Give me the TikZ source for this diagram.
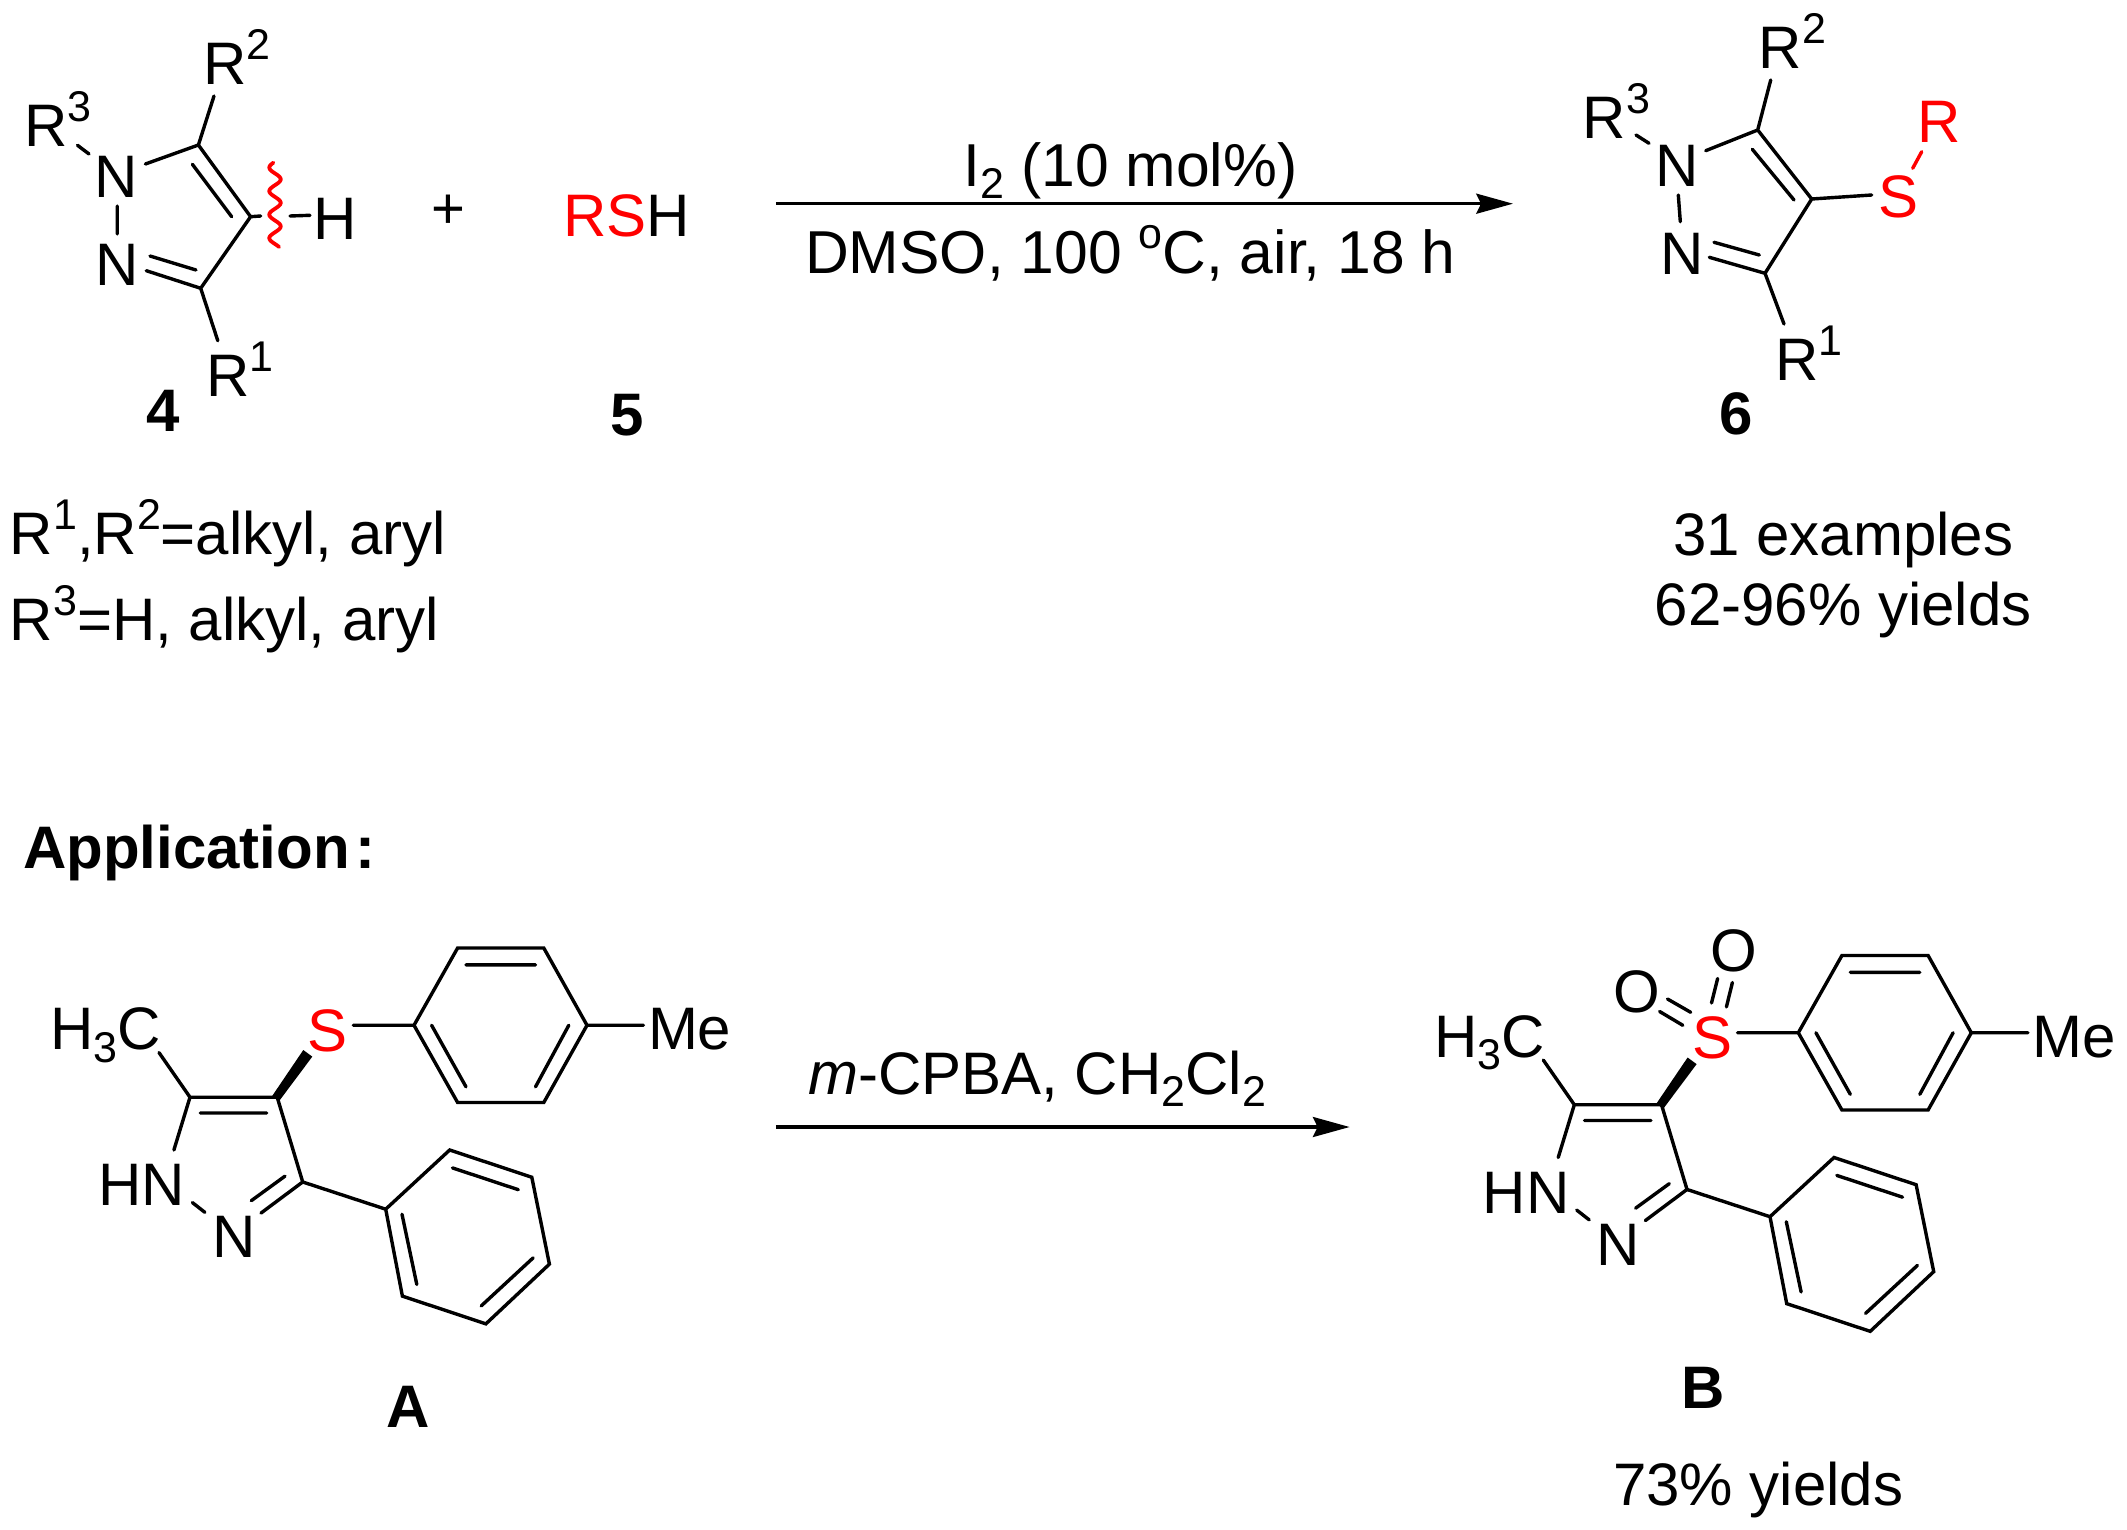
\documentclass[tikz,border=0pt]{standalone}
\usepackage{fontspec}
\setmainfont{Liberation Sans}
\usetikzlibrary{arrows.meta}
\definecolor{sred}{RGB}{255,0,0}
\newcommand{\bigf}{\fontsize{60}{70}\selectfont}
\newcommand{\condf}{\fontsize{60.6}{70}\selectfont}
\newcommand{\smf}{\fontsize{43}{50}\selectfont}
\newcommand{\Rs}[1]{R\raisebox{25pt}{\smf #1}}
\newcommand{\Us}[1]{\raisebox{25pt}{\smf #1}}
\newcommand{\Ds}[1]{\raisebox{-12.5pt}{\smf #1}}
\tikzset{
  x=1pt,y=-1pt,
  bond/.style={line width=3.4pt,line cap=round,line join=miter,black},
  rxn/.style={line width=3.2pt,-{Stealth[length=36.7pt,width=20pt,inset=4.7pt]}},
  wavy/.style={line width=3.8pt,sred,line cap=round},
  lab/.style={inner sep=0pt,anchor=base west,font=\bigf,xshift=-4.7pt},
  labS/.style={inner sep=0pt,anchor=base west,font=\bigf,xshift=-3pt},
  txt/.style={inner sep=0pt,anchor=base,font=\bigf},
  txtl/.style={inner sep=0pt,anchor=base west,font=\bigf},
  lbl/.style={inner sep=0pt,anchor=base,font=\bigf\bfseries},
}
% shared skeleton of A and B
\newcommand{\core}[3]{%
\begin{scope}[shift={(#2,#3)},yscale=.99]
 \node[lab] (#1h3c) at (54.5,1051) {H\Ds{3}C};
 \node[lab] (#1hn) at (103,1208.6) {HN};
 \node[lab] (#1n) at (216.5,1261.3) {N};
 \node[labS,text=sred] (#1s) at (310.6,1052.5) {S};
 \node[lab] (#1me) at (652.5,1051) {Me};
 \coordinate (#1c5) at (190,1099); \coordinate (#1c4) at (277.2,1099); \coordinate (#1c3) at (302.7,1184.6);
 \coordinate (#1a) at (159,1053.9); \coordinate (#1b) at (173.9,1152.3);
 \coordinate (#1d1) at (200.3,1114.9); \coordinate (#1d2) at (266.6,1114.9);
 \coordinate (#1e) at (261,1216); \coordinate (#1e1) at (285,1178.7); \coordinate (#1e2) at (251.3,1203.5);
 \coordinate (#1f1) at (192.4,1205.4); \coordinate (#1f2) at (204.9,1215.3);
 \coordinate (#1w1) at (312.3,1058); \coordinate (#1w2) at (303.3,1051.3);
 \coordinate (#1w3) at (272,1098); \coordinate (#1w4) at (279,1103);
 \draw[bond] (#1a)--(#1c5)--(#1b) (#1c5)--(#1c4)--(#1c3)--(#1e) (#1d1)--(#1d2) (#1e1)--(#1e2) (#1f1)--(#1f2);
 \fill (#1w4)--(#1w1)--(#1w2)--(#1w3)--cycle;
 % tolyl ring
 \coordinate (#1t1) at (414,1026.3); \coordinate (#1t2) at (457.6,948.3); \coordinate (#1t3) at (543.8,948.3);
 \coordinate (#1t4) at (587,1026.3); \coordinate (#1t5) at (543.8,1104.3); \coordinate (#1t6) at (457.6,1104.3);
 \coordinate (#1ts) at (353.3,1026.3); \coordinate (#1tm) at (643.5,1026.3);
 \coordinate (#1ti1) at (466,965.3); \coordinate (#1ti2) at (535.5,965.3);
 \coordinate (#1ti3) at (431.6,1026.3); \coordinate (#1ti4) at (466,1088.5);
 \coordinate (#1ti5) at (568.8,1026.3); \coordinate (#1ti6) at (535.5,1088.5);
 \draw[bond] (#1t1)--(#1t2)--(#1t3)--(#1t4)--(#1t5)--(#1t6)--cycle (#1ts)--(#1t1) (#1t4)--(#1tm)
   (#1ti1)--(#1ti2) (#1ti3)--(#1ti4) (#1ti5)--(#1ti6);
 % phenyl ring
 \coordinate (#1p1) at (385.7,1212.1); \coordinate (#1p2) at (449.7,1152.3); \coordinate (#1p3) at (531.8,1179.8);
 \coordinate (#1p4) at (549.4,1267.6); \coordinate (#1p5) at (485.9,1327.9); \coordinate (#1p6) at (402.4,1299.9);
 \coordinate (#1pi1) at (452.5,1170.4); \coordinate (#1pi2) at (518.3,1192.4);
 \coordinate (#1pi3) at (402,1217.2); \coordinate (#1pi4) at (416.8,1288.1);
 \coordinate (#1pi5) at (533.1,1261.3); \coordinate (#1pi6) at (481.2,1309.8);
 \draw[bond] (#1p1)--(#1p2)--(#1p3)--(#1p4)--(#1p5)--(#1p6)--cycle (#1c3)--(#1p1)
   (#1pi1)--(#1pi2) (#1pi3)--(#1pi4) (#1pi5)--(#1pi6);
\end{scope}}
\begin{document}
\begin{tikzpicture}
\useasboundingbox (0,0) rectangle (2127,1530);
% ---------- compound 4
\node[lab] (fr2) at (207.7,85) {\Rs{2}};
\node[lab] (fr3) at (28.6,146.7) {\Rs{3}};
\node[lab] (fr1) at (211,396) {\Rs{1}};
\node[lab] (fn1) at (98.6,197.5) {N};
\node[lab] (fn2) at (100,286) {N};
\node[lab] (fh) at (318.3,239.3) {H};
\coordinate (fc5) at (198.4,145); \coordinate (fc4) at (250.6,216.7); \coordinate (fc3) at (200.7,288.3);
\coordinate (fa) at (214,96); \coordinate (fb) at (145.4,164);
\coordinate (fd1) at (192.4,164.3); \coordinate (fd2) at (231.7,216.7);
\coordinate (fe) at (146.3,270.7); \coordinate (fe1) at (196,270); \coordinate (fe2) at (150,256);
\coordinate (ff) at (217.8,340.7);
\coordinate (fg1) at (117.2,206); \coordinate (fg2) at (117.2,234);
\coordinate (fi1) at (77.5,145.3); \coordinate (fi2) at (89,154);
\coordinate (fj) at (260.7,216); \coordinate (fk1) at (290,216); \coordinate (fk2) at (310,215.3);
\draw[bond] (fa)--(fc5)--(fb) (fc5)--(fc4)--(fc3)--(fe) (fd1)--(fd2) (fe1)--(fe2) (fc3)--(ff)
  (fg1)--(fg2) (fi1)--(fi2) (fc4)--(fj) (fk1)--(fk2);
\draw[wavy] plot[smooth,domain=162.7:247,samples=90] ({275+5.7*cos(15.3*(\x-179.3))},\x);
\node[txt,font=\fontsize{58}{60}\selectfont] (plus) at (448.6,228.7) {+};
\node[txtl] (rsh) at (563.4,236.7) {\textcolor{sred}{RS}H};
\node[lbl] (n4) at (163,431.7) {4};
\node[lbl] (n5) at (627.3,435) {5};
% ---------- arrow 1
\coordinate (a1s) at (775.8,203.7); \coordinate (a1e) at (1513,203.7);
\draw[rxn] (a1s)--(a1e);
\node[txtl,font=\condf] (cond1) at (963.6,186.5) {I\Ds{2} (10 mol\%)};
\node[txtl,font=\condf] (cond2) at (805,273.6) {DMSO, 100 \Us{o}C, air, 18 h};
% ---------- compound 6
\node[lab] (sr2) at (1763.3,69) {\Rs{2}};
\node[lab] (sr3) at (1587.3,138.3) {\Rs{3}};
\node[lab] (sr1) at (1780,380) {\Rs{1}};
\node[lab] (sn1) at (1660,186.7) {N};
\node[lab] (sn2) at (1665,275) {N};
\node[labS,text=sred] (ss) at (1881.7,217.3) {S};
\node[lab,text=sred] (sr) at (1922.3,142.7) {R};
\coordinate (sc5) at (1757.7,130); \coordinate (sc4) at (1811.7,199); \coordinate (sc3) at (1765,273.3);
\coordinate (sa) at (1770.7,80); \coordinate (sb) at (1705.7,150.7);
\coordinate (sd1) at (1752.3,149.3); \coordinate (sd2) at (1794,200);
\coordinate (se) at (1709.3,257.3); \coordinate (se1) at (1759.3,255); \coordinate (se2) at (1714,242.3);
\coordinate (sf) at (1784,324);
\coordinate (sg1) at (1678.3,195); \coordinate (sg2) at (1680.3,221.7);
\coordinate (si1) at (1636,135); \coordinate (si2) at (1649,143.3);
\coordinate (sj) at (1871.7,195); \coordinate (sk1) at (1912.7,168.3); \coordinate (sk2) at (1921.7,151.7);
\draw[bond] (sa)--(sc5)--(sb) (sc5)--(sc4)--(sc3)--(se) (sd1)--(sd2) (se1)--(se2) (sc3)--(sf)
  (sg1)--(sg2) (si1)--(si2) (sc4)--(sj);
\draw[bond,sred] (sk1)--(sk2);
\node[lbl] (n6) at (1736.6,434) {6};
% ---------- notes
\node[txtl] (note1) at (9.6,554) {\Rs{1},\Rs{2}=alkyl, aryl};
\node[txtl] (note2) at (9.6,640) {\Rs{3}=H, alkyl, aryl};
\node[txt] (ex1) at (1843.2,555.3) {31 examples};
\node[txt] (ex2) at (1843.2,625) {62-96\% yields};
\node[txtl,font=\bigf\bfseries] (app) at (23,868) {Application\kern6pt:};
% ---------- A and B
\core{A}{0}{9.2}
\node[lbl] (nA) at (408,1427) {A};
\coordinate (a2s) at (775.8,1127); \coordinate (a2e) at (1349.6,1127);
\draw[rxn] (a2s)--(a2e);
\node[txtl] (cond3) at (808,1094) {\textit{m}-CPBA, CH\Ds{2}Cl\Ds{2}};
\core{B}{1384.3}{16.7}
\node[labS] (bo1) at (1616.5,1012.5) {O};
\node[labS] (bo2) at (1713,971.4) {O};
\coordinate (bq1) at (1667.5,999); \coordinate (bq2) at (1690.7,1012.3);
\coordinate (bq3) at (1659.6,1011.5); \coordinate (bq4) at (1682.8,1025.3);
\coordinate (bq5) at (1717.6,978.5); \coordinate (bq6) at (1711.5,1003);
\coordinate (bq7) at (1732.4,982.5); \coordinate (bq8) at (1726.4,1006.9);
\draw[bond] (bq1)--(bq2) (bq3)--(bq4) (bq5)--(bq6) (bq7)--(bq8);
\node[lbl] (nB) at (1702.7,1408) {B};
\node[txtl] (yB) at (1613,1505.5) {73\% yields};
\end{tikzpicture}
\end{document}
